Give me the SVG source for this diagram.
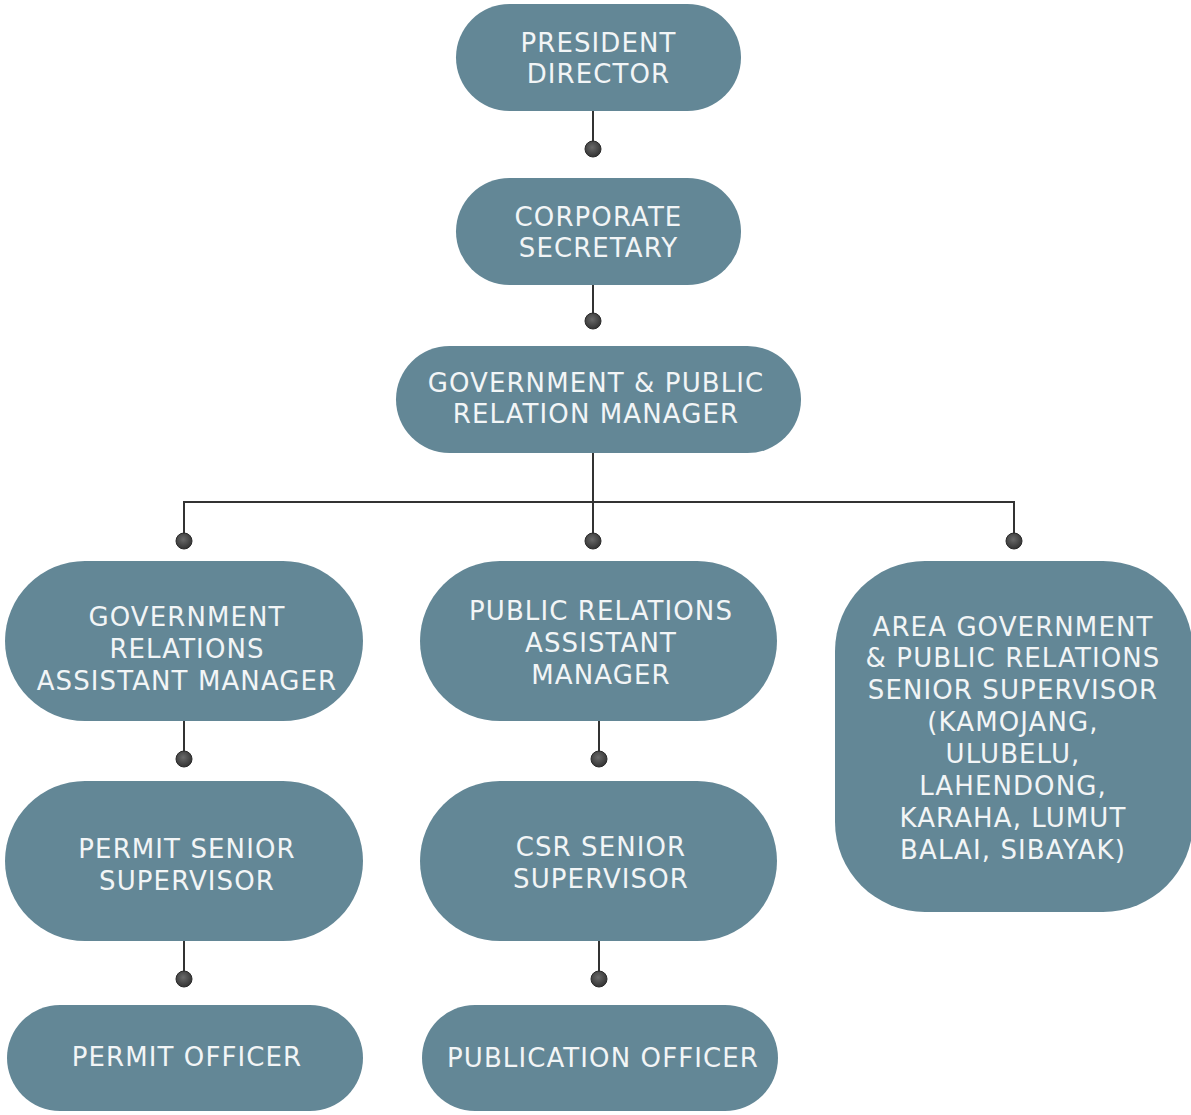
<svg xmlns="http://www.w3.org/2000/svg" width="1191" height="1115" viewBox="0 0 1191 1115">
<defs>
<radialGradient id="dotg" cx="0.45" cy="0.4" r="0.6">
<stop offset="0" stop-color="#6a6a6a"/>
<stop offset="1" stop-color="#333"/>
</radialGradient>
<style>
.n{fill:#638796}
.t{font-family:"DejaVu Sans",sans-serif;font-size:26px;fill:#f2f5f6;text-anchor:middle;letter-spacing:1.1px}
.c{stroke:#333;stroke-width:2;fill:none}
.d{fill:url(#dotg);stroke:#2a2a2a;stroke-width:1}
</style>
</defs>
<rect width="1191" height="1115" fill="#fff"/>
<g id="connectors">
<path class="c" d="M593 111V149M593 285V321M593 453V541M184 541V502H1014V541M184 721V759M599 721V759M184 941V979M599 941V979"/>
<circle class="d" cx="593" cy="149" r="8"/>
<circle class="d" cx="593" cy="321" r="8"/>
<circle class="d" cx="184" cy="541" r="8"/>
<circle class="d" cx="593" cy="541" r="8"/>
<circle class="d" cx="1014" cy="541" r="8"/>
<circle class="d" cx="184" cy="759" r="8"/>
<circle class="d" cx="599" cy="759" r="8"/>
<circle class="d" cx="184" cy="979" r="8"/>
<circle class="d" cx="599" cy="979" r="8"/>
</g>
<g id="president">
<rect class="n" x="456" y="4" width="285" height="107" rx="53.5"/>
<text class="t" x="598.5" y="52">PRESIDENT</text>
<text class="t" x="598.5" y="83">DIRECTOR</text>
</g>
<g id="corpsec">
<rect class="n" x="456" y="178" width="285" height="107" rx="53.5"/>
<text class="t" x="598.5" y="226">CORPORATE</text>
<text class="t" x="598.5" y="257">SECRETARY</text>
</g>
<g id="gprm">
<rect class="n" x="396" y="346" width="405" height="107" rx="53.5"/>
<text class="t" x="596" y="392">GOVERNMENT &amp; PUBLIC</text>
<text class="t" x="596" y="423">RELATION MANAGER</text>
</g>
<g id="gram">
<rect class="n" x="5" y="561" width="358" height="160" rx="80"/>
<text class="t" x="187" y="626">GOVERNMENT</text>
<text class="t" x="187" y="658">RELATIONS</text>
<text class="t" x="187" y="690">ASSISTANT MANAGER</text>
</g>
<g id="pram">
<rect class="n" x="420" y="561" width="357" height="160" rx="80"/>
<text class="t" x="601" y="620">PUBLIC RELATIONS</text>
<text class="t" x="601" y="652">ASSISTANT</text>
<text class="t" x="601" y="684">MANAGER</text>
</g>
<g id="area">
<rect class="n" x="835" y="561" width="358" height="351" rx="90"/>
<text class="t" x="1013" y="636">AREA GOVERNMENT</text>
<text class="t" x="1013" y="667">&amp; PUBLIC RELATIONS</text>
<text class="t" x="1013" y="699">SENIOR SUPERVISOR</text>
<text class="t" x="1013" y="731">(KAMOJANG,</text>
<text class="t" x="1013" y="763">ULUBELU,</text>
<text class="t" x="1013" y="795">LAHENDONG,</text>
<text class="t" x="1013" y="827">KARAHA, LUMUT</text>
<text class="t" x="1013" y="859">BALAI, SIBAYAK)</text>
</g>
<g id="pss">
<rect class="n" x="5" y="781" width="358" height="160" rx="80"/>
<text class="t" x="187" y="858">PERMIT SENIOR</text>
<text class="t" x="187" y="890">SUPERVISOR</text>
</g>
<g id="csr">
<rect class="n" x="420" y="781" width="357" height="160" rx="80"/>
<text class="t" x="601" y="856">CSR SENIOR</text>
<text class="t" x="601" y="888">SUPERVISOR</text>
</g>
<g id="po">
<rect class="n" x="7" y="1005" width="356" height="106" rx="53"/>
<text class="t" x="187" y="1066">PERMIT OFFICER</text>
</g>
<g id="pubo">
<rect class="n" x="422" y="1005" width="356" height="106" rx="53"/>
<text class="t" x="603" y="1067">PUBLICATION OFFICER</text>
</g>
</svg>
